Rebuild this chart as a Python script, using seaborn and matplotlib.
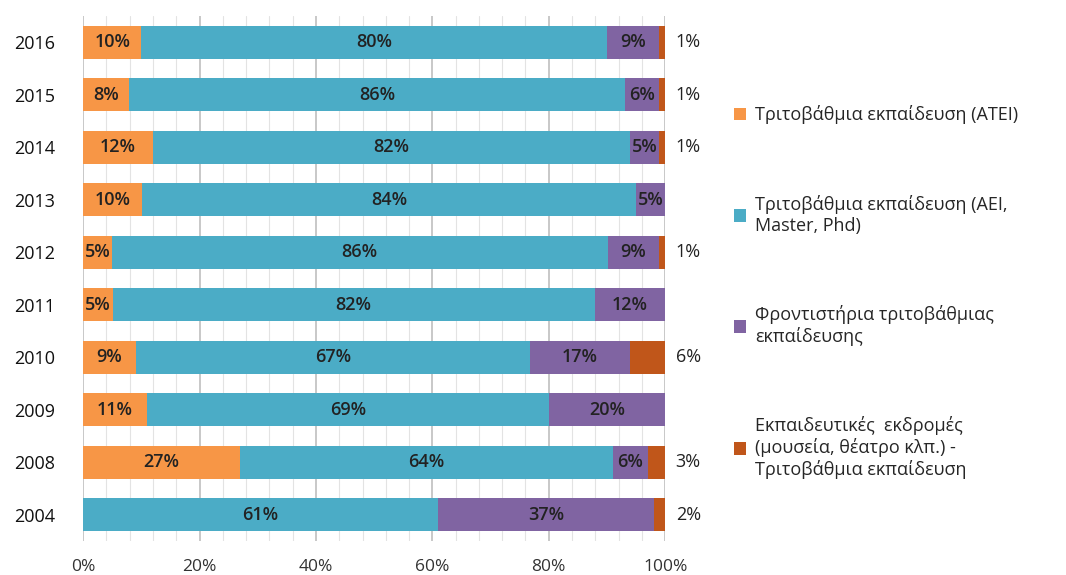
import numpy as np
import pandas as pd
import matplotlib
matplotlib.use("Agg")
import matplotlib.pyplot as plt
from matplotlib.patches import Patch
from matplotlib.ticker import MultipleLocator, PercentFormatter
import seaborn as sns

# data (percent of respondents per year)
years = ["2016", "2015", "2014", "2013", "2012", "2011", "2010", "2009", "2008", "2004"]
atei = [10, 8, 12, 10, 5, 5, 9, 11, 27, 0]
aei = [80, 86, 82, 84, 86, 82, 67, 69, 64, 61]
frontist = [9, 6, 5, 5, 9, 12, 17, 20, 6, 37]
ekdromes = [1, 1, 1, 0, 1, 0, 6, 0, 3, 2]

series_names = [
    "Τριτοβάθμια εκπαίδευση (ΑΤΕΙ)",
    "Τριτοβάθμια εκπαίδευση (ΑΕΙ,\nMaster, Phd)",
    "Φροντιστήρια τριτοβάθμιας\nεκπαίδευσης",
    "Εκπαιδευτικές  εκδρομές\n(μουσεία, θέατρο κλπ.) -\nΤριτοβάθμια εκπαίδευση",
]
colors = ["#F79646", "#4BACC6", "#8064A2", "#C0561A"]

sns.set_style("white")
plt.rcParams['font.family'] = ['Open Sans', 'DejaVu Sans']

df = pd.DataFrame({"year": years, "atei": atei, "aei": aei,
                   "frontist": frontist, "ekdromes": ekdromes})
cols = ["atei", "aei", "frontist", "ekdromes"]
# 100% stacked: scale each row to its total
share = df[cols].div(df[cols].sum(axis=1), axis=0) * 100
cum = share.cumsum(axis=1)

fig = plt.figure(figsize=(10.66, 5.75), dpi=100)
ax = fig.add_axes([0.078, 0.059, 0.546, 0.913])

# stacked bars: draw cumulative totals from largest to smallest
for i in range(len(cols) - 1, -1, -1):
    sns.barplot(x=cum[cols[i]], y=df["year"], order=years, orient="h",
                color=colors[i], width=0.63, saturation=1, ax=ax,
                linewidth=0, zorder=3)

# segment labels
for row, yr in enumerate(years):
    left = 0
    for i, c in enumerate(cols):
        v = df.loc[row, c]
        w = share.loc[row, c]
        if v > 0:
            if c == "ekdromes":
                ax.text(101.8, row, f"{v}%", ha="left", va="center",
                        fontsize=13, color="#222222", clip_on=False)
            else:
                ax.text(left + w / 2, row, f"{v}%", ha="center", va="center",
                        fontsize=13, fontweight="semibold", color="#222222")
        left += w

ax.set_xlim(0, 100)
ax.set_ylim(len(years) - 0.5, -0.5)
ax.xaxis.set_major_locator(MultipleLocator(20))
ax.xaxis.set_minor_locator(MultipleLocator(4))
ax.xaxis.set_major_formatter(PercentFormatter(decimals=0))
ax.grid(axis="x", which="major", color="#BFBFBF", linewidth=1.2, zorder=0)
ax.grid(axis="x", which="minor", color="#E3E3E3", linewidth=0.8, zorder=0)
ax.set_axisbelow(True)
for s in ax.spines.values():
    s.set_visible(False)
ax.tick_params(axis="x", length=0, pad=13, labelsize=12.5, colors="#333333")
ax.tick_params(axis="y", length=0, pad=20, labelsize=13, colors="#111111")
ax.set_xlabel("")
ax.set_ylabel("")

handles = [Patch(facecolor=c, edgecolor="none") for c in colors]
fig.legend(handles, series_names, loc="upper left", bbox_to_anchor=(0.673, 0.845),
           frameon=False, fontsize=13, handlelength=0.7, handleheight=0.7,
           handletextpad=0.5, labelspacing=3.9)

fig.savefig("out.png", dpi=100)
